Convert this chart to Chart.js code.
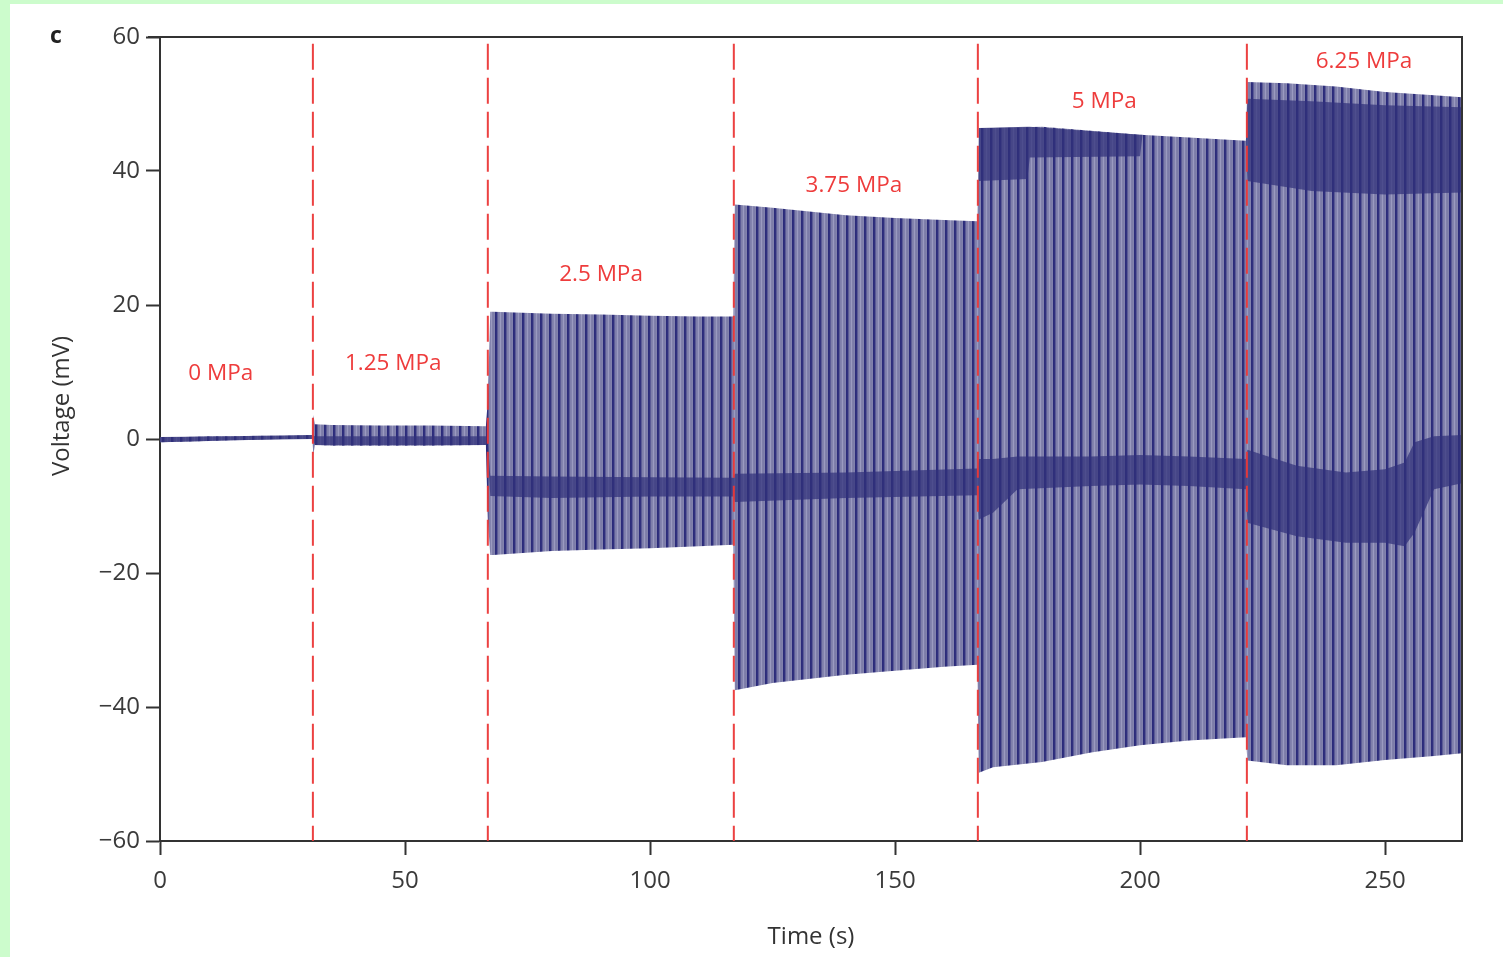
<!DOCTYPE html>
<html>
<head>
<meta charset="utf-8">
<script src="https://cdn.jsdelivr.net/npm/chart.js@4.4.1/dist/chart.umd.min.js"></script>
<style>
  html, body { margin: 0; padding: 0; background: #ccfccc; }
  #panel { position: absolute; left: 10px; top: 4px; width: 1493px; height: 953px; background: #fff; }
  #chart { position: absolute; left: 0; top: 0; }
</style>
</head>
<body>
<div id="panel"></div>
<canvas id="chart" width="1503" height="957"></canvas>
<script>
// Envelope of the voltage trace (upper and lower edge)
const envTime   = [0, 5, 10, 15, 20, 25, 31.1, 31.3, 31.6, 35, 45, 55, 66.5, 66.9, 67.4, 68, 80, 90, 100, 110, 117, 117.3, 125, 140, 150, 160, 166.8, 167.1, 170, 180, 190, 200, 210, 221.6, 221.9, 230, 240, 250, 260, 265.7];
const envTop    = [0.3, 0.3, 0.4, 0.4, 0.5, 0.5, 0.6, 3.6, 2.2, 2.1, 2.0, 2.0, 1.9, 5.8, 19.0, 19.0, 18.7, 18.6, 18.4, 18.3, 18.3, 35.0, 34.5, 33.4, 33.0, 32.7, 32.5, 46.4, 46.4, 46.6, 46.0, 45.4, 45.0, 44.5, 53.3, 53.1, 52.6, 51.8, 51.3, 51.0];
const envBottom = [-0.5, -0.4, -0.3, -0.2, -0.1, 0.0, 0.0, -2.4, -0.9, -1.0, -1.0, -1.0, -0.9, -12.0, -17.3, -17.3, -16.7, -16.5, -16.3, -16.0, -15.8, -37.5, -36.4, -35.2, -34.6, -34.0, -33.7, -49.8, -49.0, -48.2, -46.8, -45.7, -45.0, -44.5, -48.0, -48.7, -48.7, -47.9, -47.3, -46.9];

// Dark resting band in the middle of the trace
const bandTime   = [0, 15, 31.1, 31.6, 50, 66.8, 67.4, 80, 100, 117, 117.3, 140, 166.8, 167.1, 170, 175, 190, 200, 210, 221.6, 221.9, 232, 242, 250, 254, 256, 260, 265.7];
const bandTop    = [0.3, 0.4, 0.6, 0.4, 0.4, 0.4, -5.5, -5.6, -5.7, -5.8, -5.2, -5.0, -4.4, -3.0, -3.0, -2.6, -2.6, -2.4, -2.6, -3.0, -1.6, -4.0, -5.0, -4.5, -3.5, -0.5, 0.4, 0.6];
const bandBottom = [-0.5, -0.2, 0.0, -0.9, -0.9, -0.9, -8.5, -8.8, -8.6, -8.6, -9.4, -8.8, -8.4, -12.0, -11.0, -7.5, -7.0, -6.8, -7.0, -7.5, -12.5, -14.5, -15.5, -15.5, -16.0, -14.0, -7.5, -6.6];

// Dark band near the peaks at 5 MPa and 6.25 MPa
const peakTime   = [167.1, 177, 177.5, 200, 200.5, 221.6, 221.9, 235, 250, 265.7];
const peakTop    = [46.4, 46.6, 46.6, 45.4, 45.4, 44.5, 50.8, 50.4, 49.8, 49.5];
const peakBottom = [38.5, 38.8, 42.0, 42.2, 45.4, 44.5, 38.5, 37.0, 36.5, 36.8];

// Pressure steps
const stepTimes  = [31.2, 66.9, 117.1, 166.9, 221.8];
const stageNames = ['0 MPa', '1.25 MPa', '2.5 MPa', '3.75 MPa', '5 MPa', '6.25 MPa'];
const stageX     = [12.4, 47.6, 90.0, 141.6, 192.7, 245.7];
const stageY     = [9.8, 11.2, 24.6, 37.8, 50.4, 56.3];

const timeTicks    = [0, 50, 100, 150, 200, 250];
const voltageTicks = [-60, -40, -20, 0, 20, 40, 60];

const toPoints = (xs, ys) => xs.map((x, i) => ({ x: x, y: ys[i] }));

// Striped fill that imitates the dense spikes
function makeStripes() {
  const c = document.createElement('canvas');
  c.width = 9;
  c.height = 4;
  const g = c.getContext('2d');
  const cols = ['#2b2b7a', '#30307e', '#5b5b96', '#7e7eaa', '#8383ae', '#9a9ac0', '#8080ab', '#7c7ca8', '#8282ad'];
  cols.forEach((col, i) => {
    g.fillStyle = col;
    g.fillRect(i, 0, 1, 4);
  });
  return g.createPattern(c, 'repeat');
}

const stripes = makeStripes();
const baseFont = "'Open Sans', 'DejaVu Sans', sans-serif";

const lineBase = { borderWidth: 0, pointRadius: 0, tension: 0, showLine: true };

const datasets = [
  { ...lineBase, label: 'envTop', data: toPoints(envTime, envTop), order: 5 },
  { ...lineBase, label: 'envBottom', data: toPoints(envTime, envBottom), fill: '-1', backgroundColor: stripes, order: 5 },
  { ...lineBase, label: 'bandTop', data: toPoints(bandTime, bandTop), order: 4 },
  { ...lineBase, label: 'bandBottom', data: toPoints(bandTime, bandBottom), fill: '-1', backgroundColor: 'rgba(48,48,122,0.72)', order: 4 },
  { ...lineBase, label: 'peakTop', data: toPoints(peakTime, peakTop), order: 3 },
  { ...lineBase, label: 'peakBottom', data: toPoints(peakTime, peakBottom), fill: '-1', backgroundColor: 'rgba(48,48,122,0.72)', order: 3 },
];

// Red dashed lines at every pressure step
stepTimes.forEach((t) => {
  datasets.push({
    label: 'step ' + t,
    data: [{ x: t, y: 59 }, { x: t, y: -60 }],
    borderColor: 'rgba(235,55,55,0.95)',
    borderWidth: 2,
    borderDash: [26, 8],
    pointRadius: 0,
    fill: false,
    order: 1,
  });
});

// Frame, axis titles, panel letter and pressure labels
const decorations = {
  id: 'decorations',
  afterDatasetsDraw(chart) {
    const { ctx, chartArea, scales } = chart;
    ctx.save();
    ctx.strokeStyle = '#333';
    ctx.lineWidth = 2;
    ctx.beginPath();
    ctx.moveTo(chartArea.left - 12, chartArea.top);
    ctx.lineTo(chartArea.right, chartArea.top);
    ctx.lineTo(chartArea.right, chartArea.bottom);
    ctx.stroke();

    ctx.fillStyle = 'rgb(238,60,60)';
    ctx.font = '22.5px ' + baseFont;
    ctx.textAlign = 'center';
    ctx.textBaseline = 'middle';
    stageNames.forEach((name, i) => {
      ctx.fillText(name, scales.x.getPixelForValue(stageX[i]), scales.y.getPixelForValue(stageY[i]));
    });

    ctx.fillStyle = '#333';
    ctx.font = '24px ' + baseFont;
    ctx.fillText('Time (s)', (chartArea.left + chartArea.right) / 2, 937);
    ctx.translate(62, 406);
    ctx.rotate(-Math.PI / 2);
    ctx.fillText('Voltage (mV)', 0, 0);
    ctx.restore();

    ctx.save();
    ctx.fillStyle = '#222';
    ctx.font = 'bold 23px ' + baseFont;
    ctx.textAlign = 'center';
    ctx.textBaseline = 'middle';
    ctx.fillText('c', 56, 36);
    ctx.restore();
  },
};

const axisStyle = {
  grid: { drawOnChartArea: false, drawTicks: true, tickLength: 14, tickWidth: 2, color: '#333' },
  border: { display: true, color: '#333', width: 2 },
};

new Chart(document.getElementById('chart').getContext('2d'), {
  type: 'line',
  data: { datasets: datasets },
  options: {
    responsive: false,
    animation: false,
    layout: { padding: { top: 37, right: 41, left: 0, bottom: 0 } },
    plugins: { legend: { display: false }, tooltip: { enabled: false } },
    scales: {
      x: {
        ...axisStyle,
        type: 'linear',
        min: 0,
        max: 265.7,
        afterBuildTicks: (s) => { s.ticks = timeTicks.map((v) => ({ value: v })); },
        afterFit: (s) => { s.height = 116; },
        ticks: { color: '#3a3a3a', font: { size: 24, family: baseFont }, padding: 12, maxRotation: 0 },
      },
      y: {
        ...axisStyle,
        type: 'linear',
        min: -60,
        max: 60,
        afterBuildTicks: (s) => { s.ticks = voltageTicks.map((v) => ({ value: v })); },
        afterFit: (s) => { s.width = 160; },
        ticks: {
          color: '#3a3a3a',
          font: { size: 24, family: baseFont },
          padding: 6,
          callback: (v) => String(v).replace('-', '\u2212'),
        },
      },
    },
  },
  plugins: [decorations],
});
</script>
</body>
</html>
